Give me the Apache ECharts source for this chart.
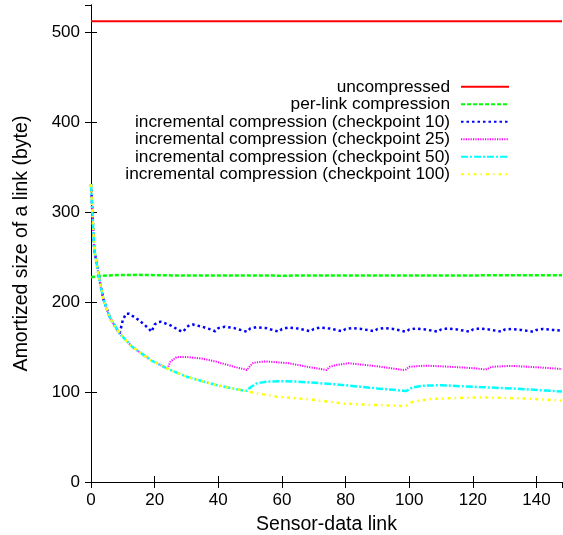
<!DOCTYPE html>
<html>
<head>
<meta charset="utf-8">
<script src="https://cdn.jsdelivr.net/npm/echarts@6/dist/echarts.min.js"></script>
<style>
html,body{margin:0;padding:0;background:#fff;}
#chart{width:563px;height:535px;}
</style>
</head>
<body>
<div id="chart"></div>
<script>
// Series names
const seriesNames = [
  'uncompressed',
  'per-link compression',
  'incremental compression (checkpoint 10)',
  'incremental compression (checkpoint 25)',
  'incremental compression (checkpoint 50)',
  'incremental compression (checkpoint 100)'
];

// Tick settings
const xTicks = [0, 20, 40, 60, 80, 100, 120, 140];
const yTicks = [0, 100, 200, 300, 400, 500];

// Data: [link, bytes]
const uncompressed = [[0, 512], [148, 512]];

const perLink = [[0, 227.5], [2, 229], [5, 229.5], [10, 230], [15, 230.2], [20, 229.8],
  [30, 229.4], [60, 229.3], [100, 229.4], [148, 229.8]];

// shared early decay (before the first checkpoint of each series)
const commonStart = [[0, 331], [1, 259], [2, 238], [3, 218], [4, 202], [6, 182], [9, 165]];
const commonTo24 = [[13, 150], [19, 135], [24, 126]];
const commonTo48 = [[30, 117], [39, 108], [48, 101.5]];

const ckpt10Tail = [[10, 180], [11, 187], [12, 187], [15, 180], [18, 171], [19, 167],
  [20, 175], [21, 177.5], [22, 178], [25, 174], [28, 168], [29, 167],
  [30, 172], [31, 174.5], [32, 175], [35, 172.5], [38, 169], [39, 167.5],
  [40, 171], [42, 172.5], [45, 171], [49, 167],
  [50, 170.5], [52, 172], [55, 171], [59, 167],
  [60, 170], [62, 171.5], [65, 170.5], [69, 167.5],
  [70, 170], [72, 171.5], [75, 170.5], [79, 167.5],
  [80, 170], [82, 171], [85, 170], [89, 167.5],
  [90, 170], [92, 171], [95, 170], [99, 167],
  [100, 169.5], [102, 170.5], [105, 169.5], [109, 167],
  [110, 169.5], [112, 170.5], [115, 169.5], [119, 167],
  [120, 169.5], [122, 170.5], [125, 169.5], [129, 167],
  [130, 169.5], [132, 170], [135, 169], [139, 167],
  [140, 169], [142, 170], [145, 169], [148, 168]];

const ckpt25Tail = [[25, 134], [27, 139], [30, 139], [35, 137], [39, 134], [45, 128], [49, 124.5],
  [50, 129], [51, 132.5], [55, 134], [62, 132], [68, 128], [74, 124.5],
  [75, 128], [77, 130], [81, 132], [90, 128.5], [98, 124.5],
  [99, 125], [100, 128], [105, 129.3], [113, 128], [120, 126.5], [124, 125],
  [126, 128], [132, 129], [140, 127.5], [148, 125.5]];

const ckpt50Tail = [[49, 101.5], [50, 105], [52, 109.5], [55, 111.5], [60, 112], [65, 111.5],
  [77, 108.5], [90, 104], [98, 101.5], [99, 101], [101, 105], [104, 107], [110, 107.5],
  [122, 105.5], [132, 104], [148, 100.5]];

const ckpt100Tail = [[50, 100], [58, 95], [68, 92], [80, 87], [90, 85.5], [98, 84.5], [99, 84.5],
  [101, 89], [106, 92], [112, 93], [122, 94], [135, 93], [148, 90.5]];

const ckpt10 = commonStart.concat(ckpt10Tail);
const ckpt25 = commonStart.concat(commonTo24, ckpt25Tail);
const ckpt50 = commonStart.concat(commonTo24, commonTo48, ckpt50Tail);
const ckpt100 = commonStart.concat(commonTo24, commonTo48, ckpt100Tail);

const FONT = 'Liberation Sans, Arial, Helvetica, sans-serif';

function lineSeries(name, data, color, width, dash) {
  return {
    name: name, type: 'line', data: data, symbol: 'none', showSymbol: false,
    animation: false, xAxisIndex: 0, yAxisIndex: 0,
    lineStyle: { color: color, width: width, type: dash, cap: 'butt' },
    itemStyle: { color: color }
  };
}

const chart = echarts.init(document.getElementById('chart'), null, { renderer: 'canvas' });

const baseAxisLine = { show: true, lineStyle: { color: '#000', width: 1 } };

chart.setOption({
  animation: false,
  backgroundColor: '#fff',
  grid: { left: 91, right: 1, top: 5, bottom: 53, containLabel: false, outerBoundsMode: 'none' },
  legend: {
    orient: 'vertical', align: 'right', right: 53, top: 78, padding: 0,
    itemWidth: 48, itemHeight: 10, itemGap: 0, selectedMode: false,
    data: seriesNames,
    itemStyle: { opacity: 0 },
    textStyle: { fontSize: 17.3, fontFamily: FONT, color: '#000', lineHeight: 17.5, padding: [0, 6, 0, 0] }
  },
  xAxis: [{
    type: 'value', min: 0, max: 148, interval: 20, position: 'bottom',
    name: 'Sensor-data link', nameLocation: 'middle', nameGap: 33,
    nameTextStyle: { fontSize: 19.5, fontFamily: FONT, color: '#000' },
    axisLine: baseAxisLine,
    axisTick: { show: true, inside: true, length: 6, lineStyle: { color: '#000', width: 1 } },
    axisLabel: { show: true, margin: 10, fontSize: 17, fontFamily: FONT, color: '#000', showMaxLabel: false,
      formatter: function (v) { return xTicks.indexOf(v) >= 0 ? String(v) : ''; } },
    splitLine: { show: false }
  }, {
    type: 'value', min: 0, max: 148, interval: 20, position: 'top',
    axisLine: baseAxisLine,
    axisTick: { show: true, inside: true, length: 6, lineStyle: { color: '#000', width: 1 } },
    axisLabel: { show: false }, splitLine: { show: false }
  }],
  yAxis: [{
    type: 'value', min: 0, max: 530, interval: 100, position: 'left',
    name: 'Amortized size of a link (byte)', nameLocation: 'middle', nameGap: 59, nameRotate: 90,
    nameTextStyle: { fontSize: 19.5, fontFamily: FONT, color: '#000' },
    axisLine: baseAxisLine,
    axisTick: { show: true, inside: true, length: 6, lineStyle: { color: '#000', width: 1 } },
    axisLabel: { show: true, margin: 11, fontSize: 17, fontFamily: FONT, color: '#000', showMaxLabel: false,
      formatter: function (v) { return yTicks.indexOf(v) >= 0 ? String(v) : ''; } },
    splitLine: { show: false }
  }, {
    type: 'value', min: 0, max: 530, interval: 100, position: 'right',
    axisLine: baseAxisLine,
    axisTick: { show: true, inside: true, length: 6, lineStyle: { color: '#000', width: 1 } },
    axisLabel: { show: false }, splitLine: { show: false }
  }],
  series: [
    lineSeries(seriesNames[0], uncompressed, '#ff0000', 2, 'solid'),
    lineSeries(seriesNames[1], perLink, '#00ff00', 2.5, [4, 2]),
    lineSeries(seriesNames[2], ckpt10, '#0000ff', 2.5, [2.5, 3]),
    lineSeries(seriesNames[3], ckpt25, '#ff00ff', 2, [1.2, 1.2]),
    lineSeries(seriesNames[4], ckpt50, '#00ffff', 2.5, [7, 2, 2, 2]),
    lineSeries(seriesNames[5], ckpt100, '#ffff00', 2.5, [3, 4, 1.5, 4])
  ]
});
</script>
</body>
</html>
